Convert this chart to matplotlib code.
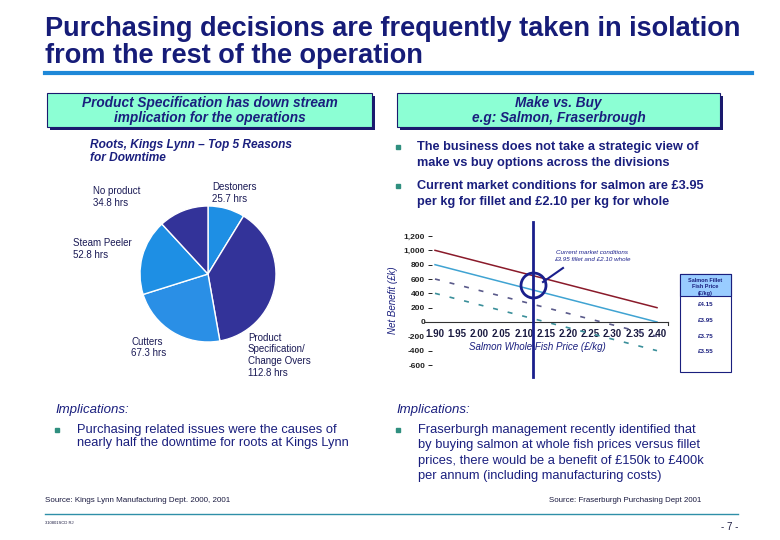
import matplotlib
matplotlib.use('Agg')
import matplotlib.pyplot as plt
from matplotlib.patches import Rectangle
from matplotlib.lines import Line2D

# ---------------- data ----------------
pie_names = ['Destoners', 'Product\nSpecification/\nChange Overs', 'Cutters', 'Steam Peeler', 'No product']
pie_hours = [25.7, 112.8, 67.3, 52.8, 34.8]
pie_colors = ['#1e8fe4', '#333399', '#2a8fe6', '#1e8fe4', '#333399']

whole_price = [1.90, 1.95, 2.00, 2.05, 2.10, 2.15, 2.20, 2.25, 2.30, 2.35, 2.40]
fillet_prices = ['£4.15', '£3.95', '£3.75', '£3.55']
benefit_415 = [1000, 920, 840, 760, 680, 600, 520, 440, 360, 280, 200]
benefit_395 = [800, 720, 640, 560, 480, 400, 320, 240, 160, 80, 0]
benefit_375 = [600, 520, 440, 360, 280, 200, 120, 40, -40, -120, -200]
benefit_355 = [400, 320, 240, 160, 80, 0, -80, -160, -240, -320, -400]
y_ticks = [1200, 1000, 800, 600, 400, 200, 0, -200, -400, -600]
y_tick_labels = ['1,200', '1,000', '800', '600', '400', '200', '0', '-200', '-400', '-600']
current_whole = 2.12
current_benefit = 520

# ---------------- helpers ----------------
W, H = 780, 540
fig = plt.figure(figsize=(7.8, 5.4), dpi=100)
NAVY = '#1a1f7e'
DARK = '#1a1a55'
SANS = ['Liberation Sans', 'DejaVu Sans']
NARROW = ['Liberation Sans Narrow', 'Liberation Sans', 'DejaVu Sans']


def fx(x):
    return x / W


def fy(y):
    return 1 - y / H


def T(x, y, s, **kw):
    kw.setdefault('va', 'center')
    kw.setdefault('family', SANS)
    kw.setdefault('color', NAVY)
    return fig.text(fx(x), fy(y), s, **kw)


def R(x0, y0, x1, y1, **kw):
    r = Rectangle((fx(x0), fy(y1)), (x1 - x0) / W, (y1 - y0) / H,
                  transform=fig.transFigure, **kw)
    fig.add_artist(r)
    return r


def L(x0, y0, x1, y1, **kw):
    fig.add_artist(Line2D([fx(x0), fx(x1)], [fy(y0), fy(y1)],
                          transform=fig.transFigure, **kw))


# ---------------- title ----------------
T(45, 29, 'Purchasing decisions are frequently taken in isolation', fontsize=19.5,
  fontweight='bold', color='#161c78')
T(45, 56, 'from the rest of the operation', fontsize=19.5, fontweight='bold', color='#161c78')
L(45, 73, 752, 73, color='#1e88d8', lw=3)

# ---------------- header boxes ----------------
for (x0, x1, l1, l2) in [(47, 372, 'Product Specification has down stream',
                          'implication for the operations'),
                         (397, 720, 'Make vs. Buy', 'e.g: Salmon, Fraserbrough')]:
    R(x0 + 3, 96, x1 + 3, 130, facecolor='#1a1a6e', edgecolor='none')
    R(x0, 93, x1, 127, facecolor='#8cffd4', edgecolor='#1a1a6e', lw=0.8)
    cx = (x0 + x1) / 2
    T(cx, 103, l1, ha='center', fontsize=9.8, style='italic', fontweight='bold')
    T(cx, 118, l2, ha='center', fontsize=9.8, style='italic', fontweight='bold')

# ---------------- pie ----------------
T(90, 145, 'Roots, Kings Lynn – Top 5 Reasons', fontsize=8.6, fontweight='bold', style='italic')
T(90, 158, 'for Downtime', fontsize=8.6, fontweight='bold', style='italic')

ax_pie = fig.add_axes([fx(140), fy(342), 136 / W, 136 / H])
ax_pie.pie(pie_hours, colors=pie_colors, startangle=90, counterclock=False,
           wedgeprops=dict(edgecolor='white', linewidth=1))
ax_pie.set_xlim(-1, 1)
ax_pie.set_ylim(-1, 1)
ax_pie.set_aspect('auto')

pie_label_pos = [(212, 187), (248, 338), (131, 342), (73, 243), (93, 191)]
for name, hrs, (px, py) in zip(pie_names, pie_hours, pie_label_pos):
    lines = name.split('\n') + [f'{hrs} hrs']
    for i, ln in enumerate(lines):
        T(px, py + i * 11.5, ln, fontsize=7, color=DARK)

# ---------------- right bullets ----------------
def bullet(x, y, color='#2f8f7f', size=2.5):
    fig.add_artist(Line2D([fx(x)], [fy(y)], marker='s', markersize=size, color=color,
                          transform=fig.transFigure, linestyle='none'))


bullet(398, 147)
T(417, 147, 'The business does not take a strategic view of', fontsize=9.2, fontweight='bold')
T(417, 163, 'make vs buy options across the divisions', fontsize=9.2, fontweight='bold')
bullet(398, 186)
T(417, 186, 'Current market conditions for salmon are £3.95', fontsize=9.2, fontweight='bold')
T(417, 202, 'per kg for fillet and £2.10 per kg for whole', fontsize=9.2, fontweight='bold')

# ---------------- line chart ----------------
x_left, x_right = 1.90 - 3 / 444, 2.40 + 11 / 444
ax = fig.add_axes([fx(432), fy(365), (668 - 432) / W, 129 / H])
ax.set_xlim(x_left, x_right)
ax.set_ylim(-600, 1200)
ax.patch.set_alpha(0)
for s in ['top', 'right', 'left', 'bottom']:
    ax.spines[s].set_visible(False)
ax.spines['bottom'].set_position(('data', 0))

series = [benefit_415, benefit_395, benefit_375, benefit_355]
styles = [dict(color='#8a1a2a', ls='-', lw=1.1),
          dict(color='#3fa3d2', ls='-', lw=1.1),
          dict(color='#5a5a8a', ls=(0, (3, 6)), lw=1.2),
          dict(color='#3a8f9a', ls=(0, (3, 6)), lw=1.2)]
for ser, st in zip(series, styles):
    ax.plot(whole_price, ser, **st)

# zero axis line
ax.plot([1.876, 2.425], [0, 0], color='#333333', lw=0.8, clip_on=False)
ax.plot([2.425, 2.425], [0, -45], color='#333333', lw=0.8, clip_on=False)

ax.set_yticks(y_ticks)
ax.set_yticklabels(y_tick_labels)
ax.tick_params(axis='y', length=3, width=0.7, pad=2, labelsize=6, colors='#222222')
ax.set_xticks(whole_price)
ax.set_xticklabels([f'{v:.2f}' for v in whole_price])
ax.tick_params(axis='x', length=0, pad=5, labelsize=7, labelcolor='#1a1a40')
for lab in ax.get_xticklabels() + ax.get_yticklabels():
    lab.set_family(SANS)
    lab.set_fontweight('bold')

# vertical "current" line and circle
ax.plot([current_whole, current_whole], [1400, -770], color='#1a1f8c', lw=2, clip_on=False)
ax.plot([current_whole], [current_benefit], marker='o', markersize=18, markerfacecolor='none',
        markeredgecolor='#1a1f8c', markeredgewidth=2, clip_on=False)
L(563, 268, 543, 282, color='#1a1f8c', lw=1.5)
T(592, 253, 'Current market conditions', ha='center', fontsize=4.5, style='italic', color='#1a1f8c')
T(592, 260, '£3.95 fillet and £2.10 whole', ha='center', fontsize=4.5, style='italic', color='#1a1f8c')

T(537, 347, 'Salmon Whole Fish Price (£/kg)', ha='center', fontsize=7, style='italic')
T(393, 300, 'Net Benefit (£k)', ha='center', fontsize=7, style='italic', rotation=90)

# legend box
R(680, 274, 731, 372, facecolor='white', edgecolor='#1a1f7e', lw=0.8)
R(680, 274, 731, 296, facecolor='#99ccff', edgecolor='#1a1f7e', lw=0.8)
for i, ln in enumerate(['Salmon Fillet', 'Fish Price', '(£/kg)']):
    T(705.5, 280 + i * 6.5, ln, ha='center', fontsize=4, fontweight='bold')
for i, lab in enumerate(fillet_prices):
    T(705.5, 305 + i * 15.5, lab, ha='center', fontsize=4.5, fontweight='bold')

# ---------------- implications ----------------
T(55, 410, 'Implications:', fontsize=9.5, style='italic', family=NARROW)
T(396, 410, 'Implications:', fontsize=9.5, style='italic', family=NARROW)
bullet(57, 430)
T(77, 430, 'Purchasing related issues were the causes of', fontsize=9.3, family=NARROW)
T(77, 443, 'nearly half the downtime for roots at Kings Lynn', fontsize=9.3, family=NARROW)
bullet(398, 430)
right_lines = ['Fraserburgh management recently identified that',
               'by buying salmon at whole fish prices versus fillet',
               'prices, there would be a benefit of £150k to £400k',
               'per annum (including manufacturing costs)']
for i, ln in enumerate(right_lines):
    T(418, 430 + i * 15.3, ln, fontsize=9.3, family=NARROW)

# ---------------- footer ----------------
T(45, 501, 'Source: Kings Lynn Manufacturing Dept. 2000, 2001', fontsize=5.8, family=NARROW, color='#1a1a40')
T(701, 501, 'Source: Fraserburgh Purchasing Dept 2001', ha='right', fontsize=5.7, family=NARROW, color='#1a1a40')
L(45, 514, 738, 514, color='#2f8fa8', lw=1)
T(45, 523, '310801SCD RJ', fontsize=3, color='#1a1a40')
T(738, 527, '- 7 -', ha='right', fontsize=7, color='#1a1a40')

fig.savefig('out.png', dpi=100)
